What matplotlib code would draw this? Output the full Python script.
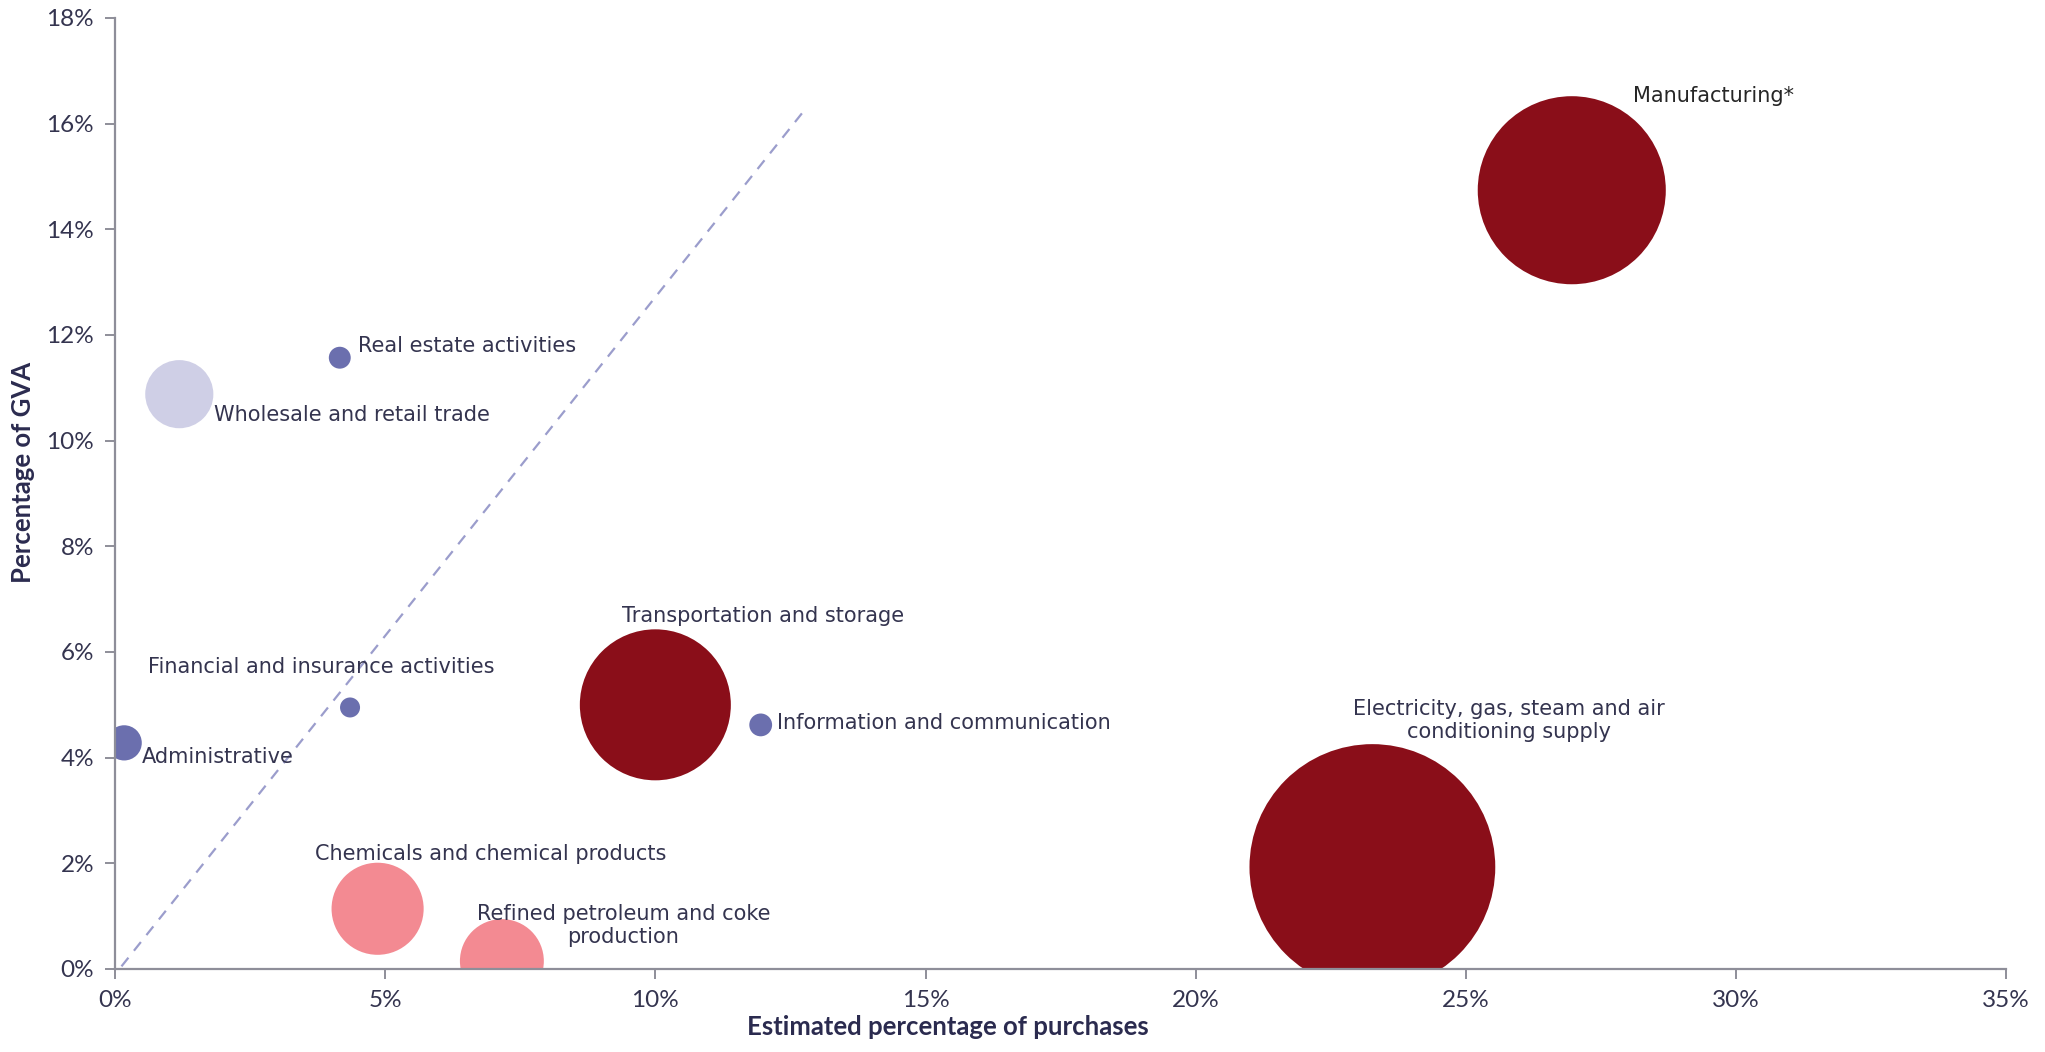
import matplotlib.pyplot as plt
from matplotlib.ticker import FuncFormatter

# sectors: x = estimated share of purchases (%), y = share of GVA (%), bubble = relative size
sectors = ['Manufacturing*', 'Electricity, gas, steam and air\nconditioning supply',
           'Transportation and storage', 'Chemicals and chemical products',
           'Refined petroleum and coke\nproduction', 'Wholesale and retail trade',
           'Administrative', 'Information and communication',
           'Financial and insurance activities', 'Real estate activities']
purchases = [26.96, 23.27, 10.0, 4.86, 7.16, 1.19, 0.17, 11.95, 4.35, 4.16]
gva = [14.74, 1.93, 5.0, 1.14, 0.15, 10.88, 4.28, 4.62, 4.95, 11.57]
bubble = [88.4, 151, 57, 21.2, 17.6, 11.6, 3.1, 1.3, 1.0, 1.2]
group = ['high', 'high', 'high', 'mid', 'mid', 'light', 'low', 'low', 'low', 'low']

# label anchors (data coords) and alignment
label_x = [28.09, 25.8, 9.38, 3.70, 9.41, 1.83, 0.49, 12.26, 0.61, 4.5]
label_y = [16.53, 4.70, 6.68, 2.17, 0.82, 10.49, 4.02, 4.66, 5.72, 11.79]
label_ha = ['left', 'center', 'left', 'left', 'center', 'left', 'left', 'left', 'left', 'left']

# dashed reference line
ref_x = [0.12, 12.74]
ref_y = [0.05, 16.23]

colors = {'high': '#8A0E19', 'mid': '#F38A92', 'light': '#CFCFE6', 'low': '#6B6FAE'}
text_col = '#34344F'
axis_col = '#8E8E99'

plt.rcParams['font.family'] = ['DejaVu Sans']

fig = plt.figure(figsize=(20.45, 10.52), dpi=100)
ax = fig.add_axes([0.05623, 0.0789, 0.9248, 0.904])

ax.plot(ref_x, ref_y, linestyle=(0, (5, 4)), color='#9B9DCC', linewidth=1.6, zorder=1)

scale = 207.4
ax.scatter(purchases, gva, s=[b * scale for b in bubble],
           c=[colors[g] for g in group], linewidths=0, zorder=2)

for name, lx, ly, ha in zip(sectors, label_x, label_y, label_ha):
    col = '#262626' if name.startswith('Manufacturing') else text_col
    ax.text(lx, ly, name, ha=ha, va='center', fontsize=15, color=col,
            linespacing=1.2, zorder=3)

ax.set_xlim(0, 35)
ax.set_ylim(0, 18)
ax.set_xticks(range(0, 36, 5))
ax.set_yticks(range(0, 19, 2))
ax.xaxis.set_major_formatter(FuncFormatter(lambda v, p: f'{v:.0f}%'))
ax.yaxis.set_major_formatter(FuncFormatter(lambda v, p: f'{v:.0f}%'))

for side in ['top', 'right']:
    ax.spines[side].set_visible(False)
for side in ['left', 'bottom']:
    ax.spines[side].set_color(axis_col)
    ax.spines[side].set_linewidth(1.6)
    ax.spines[side].set_zorder(4)

ax.tick_params(axis='both', colors=axis_col, length=7, width=1.4,
               labelsize=17.5, labelcolor=text_col, pad=8,
               labelfontfamily=['Lato', 'DejaVu Sans'])

fig.text(948 / 2045, 1 - 1027 / 1052, 'Estimated percentage of purchases',
         ha='center', va='center', fontsize=18.5, fontweight='bold', color='#2B2B4F',
         family=['Lato', 'DejaVu Sans'])
fig.text(23 / 2045, 1 - 472 / 1052, 'Percentage of GVA', rotation=90,
         ha='center', va='center', fontsize=18.5, fontweight='bold', color='#2B2B4F',
         family=['Lato', 'DejaVu Sans'])

fig.savefig('out.png', dpi=100)
